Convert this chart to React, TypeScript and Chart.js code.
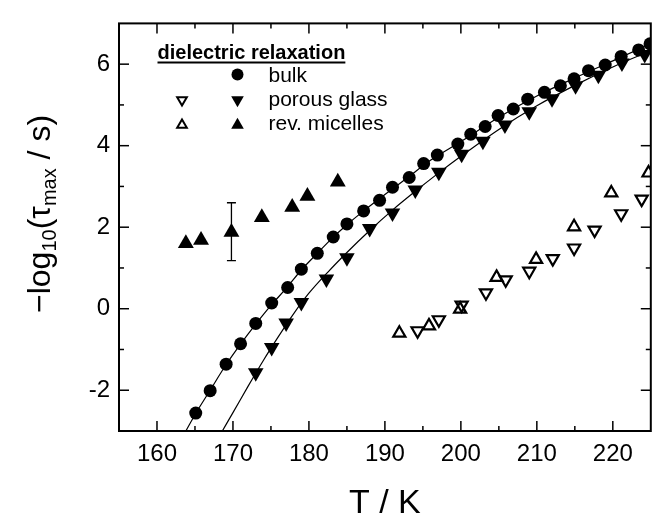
import React, { useEffect, useRef } from "react";
import { Chart, registerables } from "chart.js";

Chart.register(...registerables);

// ---------- data ----------
const bulkT = [165.1, 167.0, 169.1, 171.0, 173.0, 175.1, 177.2, 179.0, 181.1, 183.2, 185.0, 187.2, 189.3, 191.0, 193.2, 195.1, 196.9, 199.6, 201.3, 203.2, 204.9, 206.9, 208.8, 211.0, 213.1, 214.9, 216.8, 219.0, 221.1, 223.4, 224.9];
const bulkV = [-2.56, -2.01, -1.36, -0.86, -0.36, 0.14, 0.52, 0.97, 1.36, 1.76, 2.08, 2.4, 2.66, 2.98, 3.22, 3.56, 3.77, 4.04, 4.28, 4.47, 4.74, 4.9, 5.14, 5.31, 5.47, 5.64, 5.84, 5.98, 6.19, 6.35, 6.5];

const porousFilledT = [173.0, 175.1, 177.0, 179.0, 182.3, 185.0, 188.0, 191.0, 194.0, 197.1, 200.1, 202.9, 205.8, 209.0, 212.0, 215.1, 218.1, 221.2, 224.2];
const porousFilledV = [-1.57, -0.95, -0.35, 0.15, 0.73, 1.25, 1.97, 2.35, 2.91, 3.35, 3.79, 4.11, 4.51, 4.83, 5.15, 5.47, 5.73, 6.03, 6.24];

const porousOpenT = [194.3, 197.1, 200.1, 203.3, 205.9, 209.0, 212.1, 214.9, 217.6, 221.1, 223.8];
const porousOpenV = [-0.54, -0.27, 0.09, 0.39, 0.71, 0.92, 1.23, 1.49, 1.93, 2.33, 2.69];

const micellesFilledT = [163.8, 165.8, 169.8, 173.8, 177.8, 179.8, 183.8];
const micellesFilledV = [1.6, 1.68, 1.88, 2.24, 2.49, 2.76, 3.11];

const micellesOpenT = [191.9, 195.8, 199.9, 204.7, 209.9, 214.9, 219.8, 224.7];
const micellesOpenV = [-0.6, -0.42, -0.01, 0.77, 1.21, 2.01, 2.84, 3.33];

const errorBarT = [169.8];
const errorBarLow = [1.18];
const errorBarHigh = [2.6];

const bulkFitT = [163.8, 165, 167, 169, 171, 173, 175, 177, 179, 181, 183, 185, 187, 190, 193, 196, 200, 205, 210, 215, 220, 225];
const bulkFitV = [-3, -2.6, -2.0, -1.4, -0.87, -0.38, 0.08, 0.5, 0.95, 1.34, 1.72, 2.06, 2.37, 2.8, 3.22, 3.64, 4.1, 4.7, 5.22, 5.66, 6.08, 6.5];

const porousFitT = [168.6, 170, 172, 174, 176, 178, 180, 182.5, 185, 188, 191, 194, 197, 200, 205, 210, 215, 220, 225];
const porousFitV = [-3, -2.55, -1.9, -1.27, -0.68, -0.12, 0.38, 0.9, 1.38, 1.92, 2.42, 2.88, 3.32, 3.74, 4.4, 4.98, 5.48, 5.93, 6.33];

const xRange = [155, 225];
const yRange = [-3, 7];
const xMajorTicks = [160, 170, 180, 190, 200, 210, 220];
const xMinorTicks = [165, 175, 185, 195, 205, 215];
const yMajorTicks = [-2, 0, 2, 4, 6];
const yMinorTicks = [-1, 1, 3, 5];

const xTitle = "T / K";
const yTitleParts = [
  { t: "\u2212log", sub: false },
  { t: "10", sub: true },
  { t: "(\u03c4", sub: false },
  { t: "max", sub: true },
  { t: " / s)", sub: false },
];
const legendTitle = "dielectric relaxation";
const legendLabels = ["bulk", "porous glass", "rev. micelles"];

const FONT = "'Liberation Sans', Arial, Helvetica, sans-serif";

const pts = (xs: number[], ys: number[]) => xs.map((x, i) => ({ x, y: ys[i] }));

function tri(ctx: CanvasRenderingContext2D, x: number, y: number, r: number, down: boolean, filled: boolean) {
  const s = down ? -1 : 1;
  ctx.beginPath();
  ctx.moveTo(x, y - s * r);
  ctx.lineTo(x + r * Math.sin((2 * Math.PI) / 3), y + s * r * 0.5);
  ctx.lineTo(x - r * Math.sin((2 * Math.PI) / 3), y + s * r * 0.5);
  ctx.closePath();
  if (filled) {
    ctx.fillStyle = "#000";
    ctx.fill();
  } else {
    ctx.lineWidth = 2;
    ctx.strokeStyle = "#000";
    ctx.stroke();
  }
}

const decor = {
  id: "decor",
  beforeDatasetsDraw(chart: any) {
    const { ctx, scales } = chart;
    const x = scales.x;
    const y = scales.y;
    ctx.save();
    ctx.strokeStyle = "#000";
    ctx.lineWidth = 1.3;
    errorBarT.forEach((t, i) => {
      const px = x.getPixelForValue(t);
      const lo = y.getPixelForValue(errorBarLow[i]);
      const hi = y.getPixelForValue(errorBarHigh[i]);
      ctx.beginPath();
      ctx.moveTo(px, lo);
      ctx.lineTo(px, hi);
      ctx.moveTo(px - 4.5, lo);
      ctx.lineTo(px + 4.5, lo);
      ctx.moveTo(px - 4.5, hi);
      ctx.lineTo(px + 4.5, hi);
      ctx.stroke();
    });
    ctx.restore();
  },
  afterDatasetsDraw(chart: any) {
    const { ctx, chartArea: a, scales } = chart;
    const x = scales.x;
    const y = scales.y;
    ctx.save();
    ctx.strokeStyle = "#000";
    ctx.lineWidth = 1.5;
    const tick = (x1: number, y1: number, x2: number, y2: number) => {
      ctx.beginPath();
      ctx.moveTo(x1, y1);
      ctx.lineTo(x2, y2);
      ctx.stroke();
    };
    xMajorTicks.forEach((v) => {
      const p = x.getPixelForValue(v);
      tick(p, a.bottom, p, a.bottom - 10);
      tick(p, a.top, p, a.top + 10);
    });
    xMinorTicks.forEach((v) => {
      const p = x.getPixelForValue(v);
      tick(p, a.bottom, p, a.bottom - 5);
      tick(p, a.top, p, a.top + 5);
    });
    yMajorTicks.forEach((v) => {
      const p = y.getPixelForValue(v);
      tick(a.left, p, a.left + 10, p);
      tick(a.right, p, a.right - 10, p);
    });
    yMinorTicks.forEach((v) => {
      const p = y.getPixelForValue(v);
      tick(a.left, p, a.left + 5, p);
      tick(a.right, p, a.right - 5, p);
    });
    ctx.lineWidth = 2;
    ctx.strokeRect(a.left, a.top, a.right - a.left, a.bottom - a.top);
    ctx.restore();
  },
  afterDraw(chart: any) {
    const { ctx, chartArea: a } = chart;
    ctx.save();
    ctx.fillStyle = "#000";
    ctx.strokeStyle = "#000";
    // x title
    ctx.font = `34px ${FONT}`;
    ctx.textAlign = "center";
    ctx.textBaseline = "alphabetic";
    ctx.fillText(xTitle, (a.left + a.right) / 2, 513);
    // y title (rotated, with subscripts)
    ctx.save();
    ctx.translate(50, 313);
    ctx.rotate(-Math.PI / 2);
    ctx.textAlign = "left";
    let cx = 0;
    yTitleParts.forEach((p) => {
      ctx.font = p.sub ? `20px ${FONT}` : `32px ${FONT}`;
      ctx.fillText(p.t, cx, p.sub ? 6 : 0);
      cx += ctx.measureText(p.t).width;
    });
    ctx.restore();
    // legend
    ctx.textAlign = "left";
    ctx.font = `bold 20px ${FONT}`;
    ctx.fillText(legendTitle, 157.5, 58.5);
    const w = ctx.measureText(legendTitle).width;
    ctx.lineWidth = 2;
    ctx.beginPath();
    ctx.moveTo(157.5, 62.5);
    ctx.lineTo(157.5 + w, 62.5);
    ctx.stroke();
    ctx.font = `21px ${FONT}`;
    const rows = [81.5, 105.5, 129.5];
    legendLabels.forEach((l, i) => ctx.fillText(l, 268.5, rows[i]));
    ctx.beginPath();
    ctx.arc(237.5, 74.5, 6, 0, Math.PI * 2);
    ctx.fill();
    tri(ctx, 237.5, 100, 7.3, true, true);
    tri(ctx, 182, 100, 5.6, true, false);
    tri(ctx, 237.5, 125, 7.3, false, true);
    tri(ctx, 182, 125, 5.6, false, false);
    ctx.restore();
  },
};

export default function App() {
  const ref = useRef<HTMLCanvasElement | null>(null);
  useEffect(() => {
    if (!ref.current) return;
    Chart.defaults.font.family = FONT;
    const chart = new Chart(ref.current, {
      type: "scatter",
      data: {
        datasets: [
          {
            label: "bulk",
            data: pts(bulkT, bulkV),
            pointStyle: "circle",
            pointRadius: 6.5,
            backgroundColor: "#000",
            borderWidth: 0,
            showLine: false,
            clip: 0,
          },
          {
            label: "porous glass (filled)",
            data: pts(porousFilledT, porousFilledV),
            pointStyle: "triangle",
            rotation: 180,
            pointRadius: 9,
            backgroundColor: "#000",
            borderWidth: 0,
            showLine: false,
            clip: 0,
          },
          {
            label: "rev. micelles (filled)",
            data: pts(micellesFilledT, micellesFilledV),
            pointStyle: "triangle",
            pointRadius: 9.2,
            backgroundColor: "#000",
            borderWidth: 0,
            showLine: false,
            clip: 0,
          },
          {
            label: "porous glass (open)",
            data: pts(porousOpenT, porousOpenV),
            pointStyle: "triangle",
            rotation: 180,
            pointRadius: 7,
            backgroundColor: "rgba(0,0,0,0)",
            borderColor: "#000",
            borderWidth: 2.2,
            showLine: false,
            clip: 0,
          },
          {
            label: "rev. micelles (open)",
            data: pts(micellesOpenT, micellesOpenV),
            pointStyle: "triangle",
            pointRadius: 7,
            backgroundColor: "rgba(0,0,0,0)",
            borderColor: "#000",
            borderWidth: 2.2,
            showLine: false,
            clip: 0,
          },
          {
            label: "bulk fit",
            data: pts(bulkFitT, bulkFitV),
            showLine: true,
            pointRadius: 0,
            borderColor: "#000",
            borderWidth: 1.2,
            cubicInterpolationMode: "monotone",
            clip: 0,
          },
          {
            label: "porous fit",
            data: pts(porousFitT, porousFitV),
            showLine: true,
            pointRadius: 0,
            borderColor: "#000",
            borderWidth: 1.2,
            cubicInterpolationMode: "monotone",
            clip: 0,
          },
        ],
      },
      options: {
        responsive: false,
        animation: false,
        events: [],
        layout: { padding: { left: 0, right: 4, top: 14, bottom: 0 } },
        plugins: { legend: { display: false }, tooltip: { enabled: false } },
        scales: {
          x: {
            type: "linear",
            min: xRange[0],
            max: xRange[1],
            grid: { display: false, drawTicks: false, tickLength: 0 },
            border: { display: false },
            afterBuildTicks: (s: any) => {
              s.ticks = xMajorTicks.map((v) => ({ value: v }));
            },
            afterFit: (s: any) => {
              s.height = 86;
            },
            ticks: {
              font: { size: 24, family: FONT },
              color: "#000",
              padding: 9,
              maxRotation: 0,
              autoSkip: false,
              callback: (v: any) => String(v),
            },
          },
          y: {
            type: "linear",
            min: yRange[0],
            max: yRange[1],
            grid: { display: false, drawTicks: false, tickLength: 0 },
            border: { display: false },
            afterBuildTicks: (s: any) => {
              s.ticks = yMajorTicks.map((v) => ({ value: v }));
            },
            afterFit: (s: any) => {
              s.width = 119;
            },
            ticks: {
              font: { size: 24, family: FONT },
              color: "#000",
              padding: 9,
              autoSkip: false,
              callback: (v: any) => String(v),
            },
          },
        },
      },
      plugins: [decor],
    } as any);
    return () => chart.destroy();
  }, []);
  return (
    <div style={{ position: "fixed", left: 0, top: 0, width: 660, height: 517, background: "#fff" }}>
      <canvas ref={ref} width={660} height={517} style={{ display: "block" }} />
    </div>
  );
}
